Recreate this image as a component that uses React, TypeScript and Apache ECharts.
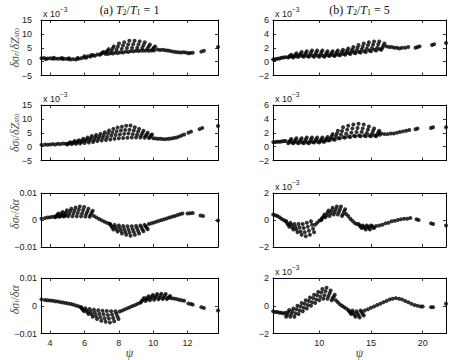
import React, { useEffect, useRef } from 'react';
import * as echarts from 'echarts';

// ---- data (y in units of 1e-3) ----
const srZstoA: number[][] = [
  [3.5,1.2],[3.65,1.3],[3.75,0.9],[3.85,1.1],[4.0,1.2],[4.15,1.0],[4.2,1.4],[4.3,1.1],[4.45,1.0],[4.6,1.1],[4.7,1.3],[4.75,0.9],[4.9,1.0],[5.05,0.9],[5.1,1.2],[5.2,0.8],[5.35,0.9],[5.5,0.8],[5.6,1.3],[5.65,1.0],[5.8,1.2],[5.95,1.5],[6.0,1.9],[6.1,1.4],[6.2,1.9],[6.35,1.8],[6.4,2.4],[6.5,2.3],[6.6,2.1],[6.75,2.6],
  [6.9,2.5],[6.97,2.8],[7.04,3.2],[7.11,3.5],
  [7.2,2.8],[7.27,3.4],[7.34,3.9],[7.41,4.5],
  [7.5,3.0],[7.57,3.8],[7.64,4.7],[7.71,5.5],
  [7.8,3.2],[7.87,4.3],[7.94,5.4],[8.01,6.5],
  [8.1,3.4],[8.17,4.6],[8.24,5.8],[8.31,7.0],
  [8.4,3.6],[8.47,4.9],[8.54,6.2],[8.61,7.5],
  [8.7,3.8],[8.77,5.0],[8.84,6.3],[8.91,7.5],
  [9.0,3.9],[9.07,5.0],[9.14,6.2],[9.21,7.3],
  [9.3,4.0],[9.37,5.0],[9.44,6.0],[9.51,7.0],
  [9.6,4.0],[9.67,4.7],[9.74,5.5],[9.81,6.2],
  [9.9,4.0],[9.97,4.5],[10.04,5.0],[10.11,5.5],
  [7.35,2.7],[7.65,2.9],[7.95,3.1],[8.25,3.3],[8.55,3.5],[8.85,3.7],[9.15,3.8],[9.45,3.9],[9.75,3.9],[10.05,4.0],
  [10.25,4.4],[10.4,4.2],[10.55,4.3],[10.7,4.1],[10.85,4.0],[11.0,3.8],[11.15,3.6],[11.3,3.5],[11.45,3.4],[11.6,3.3],[11.75,3.4],[11.9,3.3],[12.05,3.0],[12.15,3.1],[12.3,3.2],[12.8,3.6],[12.95,3.9],[13.77,5.3],
];

const siZstoA: number[][] = [
  [3.5,0.7],[3.7,0.8],[3.85,0.7],[4.0,0.8],[4.15,0.9],[4.3,0.8],[4.45,1.0],[4.6,0.9],[4.75,1.1],[4.9,1.0],
  [5.0,0.8],[5.06,1.1],[5.12,1.3],[5.18,1.6],
  [5.25,0.9],[5.31,1.3],[5.37,1.6],[5.43,2.0],
  [5.5,1.0],[5.56,1.4],[5.62,1.9],[5.68,2.3],
  [5.75,1.1],[5.81,1.7],[5.87,2.2],[5.93,2.8],
  [6.0,1.3],[6.06,2.0],[6.12,2.6],[6.18,3.3],
  [6.25,1.5],[6.31,2.3],[6.37,3.0],[6.43,3.8],
  [6.5,1.7],[6.56,2.5],[6.62,3.4],[6.68,4.2],
  [6.75,2.0],[6.81,2.9],[6.87,3.7],[6.93,4.6],
  [7.0,2.2],[7.06,3.2],[7.12,4.2],[7.18,5.2],
  [7.25,2.4],[7.31,3.5],[7.37,4.7],[7.43,5.8],
  [7.5,2.6],[7.56,3.9],[7.62,5.1],[7.68,6.4],
  [7.75,2.8],[7.81,4.2],[7.87,5.5],[7.93,6.9],
  [8.0,3.0],[8.06,4.4],[8.12,5.8],[8.18,7.2],
  [8.25,3.1],[8.31,4.6],[8.37,6.0],[8.43,7.5],
  [8.5,3.2],[8.56,4.7],[8.62,6.1],[8.68,7.6],
  [8.75,3.3],[8.81,4.5],[8.87,5.8],[8.93,7.0],
  [9.0,3.3],[9.06,4.3],[9.12,5.4],[9.18,6.4],
  [9.25,3.3],[9.31,4.1],[9.37,4.9],[9.43,5.7],
  [9.5,3.2],[9.56,3.8],[9.62,4.4],[9.68,5.0],
  [9.75,3.1],[9.81,3.5],[9.87,4.0],[9.93,4.4],
  [10.0,3.0],[10.15,2.9],[10.3,2.8],[10.45,2.8],[10.6,2.7],[10.75,2.7],[10.9,2.8],[11.05,2.9],[11.2,3.1],[11.35,3.3],[11.5,3.6],[11.65,4.0],[11.8,4.4],[12.05,5.0],[12.2,5.4],[12.7,6.3],[12.85,6.7],[13.77,7.4],
];

const srAlphaA: number[][] = [
  [3.5,0.5],[3.7,0.7],[3.85,0.9],[4.0,1.0],[4.15,1.2],[4.3,1.3],[4.45,1.4],[4.6,1.5],[4.75,1.6],[4.9,1.7],
  [4.3,1.0],[4.36,1.5],[4.42,1.9],[4.48,2.4],
  [4.55,1.2],[4.61,1.8],[4.67,2.4],[4.73,3.0],
  [4.8,1.3],[4.86,2.1],[4.92,2.8],[4.98,3.6],
  [5.05,1.4],[5.11,2.3],[5.17,3.3],[5.23,4.2],
  [5.3,1.4],[5.36,2.5],[5.42,3.5],[5.48,4.6],
  [5.55,1.4],[5.61,2.6],[5.67,3.8],[5.73,5.0],
  [5.8,1.4],[5.86,2.5],[5.92,3.7],[5.98,4.8],
  [6.05,1.3],[6.11,2.3],[6.17,3.2],[6.23,4.2],
  [6.3,1.2],[6.36,1.9],[6.42,2.7],[6.48,3.4],
  [6.55,1.5],[6.7,0.9],[6.85,0.4],[7.0,-0.1],[7.15,-0.6],[7.3,-1.0],[7.45,-1.4],
  [7.5,-1.5],[7.56,-2.2],[7.62,-2.8],[7.68,-3.5],
  [7.75,-1.8],[7.81,-2.6],[7.87,-3.5],[7.93,-4.3],
  [8.0,-2.0],[8.06,-3.0],[8.12,-4.0],[8.18,-5.0],
  [8.25,-2.2],[8.31,-3.3],[8.37,-4.4],[8.43,-5.5],
  [8.5,-2.3],[8.56,-3.5],[8.62,-4.6],[8.68,-5.8],
  [8.75,-2.3],[8.81,-3.4],[8.87,-4.4],[8.93,-5.5],
  [9.0,-2.2],[9.06,-3.1],[9.12,-4.1],[9.18,-5.0],
  [9.25,-2.0],[9.31,-2.7],[9.37,-3.5],[9.43,-4.2],
  [9.5,-1.8],[9.56,-2.3],[9.62,-2.9],[9.68,-3.4],
  [9.75,-1.5],[9.9,-1.2],[10.05,-0.9],[10.2,-0.6],[10.35,-0.3],[10.5,0.0],[10.65,0.3],[10.8,0.6],[10.95,0.9],[11.1,1.2],[11.25,1.5],[11.4,1.8],[11.55,2.1],[11.7,2.4],[12.0,2.4],[12.15,2.5],[12.3,2.6],[12.75,1.7],[12.9,1.5],[13.77,-0.2],
];

const siAlphaA: number[][] = [
  [3.5,2.3],[3.7,2.1],[3.85,2.0],[4.0,1.9],[4.15,1.8],[4.3,1.6],[4.45,1.5],[4.6,1.3],[4.75,1.2],[4.9,1.0],[5.05,0.8],[5.2,0.6],[5.35,0.4],[5.5,0.1],[5.65,-0.2],[5.8,-0.5],
  [5.8,-0.6],[5.86,-1.1],[5.92,-1.5],[5.98,-2.0],
  [6.05,-0.9],[6.11,-1.6],[6.17,-2.3],[6.23,-3.0],
  [6.3,-1.2],[6.36,-2.1],[6.42,-3.1],[6.48,-4.0],
  [6.55,-1.4],[6.61,-2.5],[6.67,-3.7],[6.73,-4.8],
  [6.8,-1.6],[6.86,-2.9],[6.92,-4.1],[6.98,-5.4],
  [7.05,-1.8],[7.11,-3.1],[7.17,-4.5],[7.23,-5.8],
  [7.3,-1.9],[7.36,-3.3],[7.42,-4.6],[7.48,-6.0],
  [7.55,-2.0],[7.61,-3.2],[7.67,-4.4],[7.73,-5.6],
  [7.8,-2.0],[7.86,-2.9],[7.92,-3.9],[7.98,-4.8],
  [8.05,-2.1],[8.2,-1.7],[8.35,-1.3],[8.5,-0.9],[8.65,-0.5],[8.8,-0.1],[8.95,0.3],[9.1,0.7],[9.25,1.1],
  [9.3,1.4],[9.36,1.9],[9.42,2.3],[9.48,2.8],
  [9.55,1.7],[9.61,2.3],[9.67,2.8],[9.73,3.4],
  [9.8,2.0],[9.86,2.6],[9.92,3.3],[9.98,3.9],
  [10.05,2.2],[10.11,2.9],[10.17,3.5],[10.23,4.2],
  [10.3,2.3],[10.36,2.9],[10.42,3.6],[10.48,4.3],
  [10.55,2.4],[10.61,3.0],[10.67,3.6],[10.73,4.2],
  [10.8,2.4],[10.86,2.8],[10.92,3.1],[10.98,3.5],
  [11.05,2.7],[11.2,2.6],[11.35,2.4],[11.5,2.2],[11.65,2.0],[11.8,1.8],[12.05,0.8],[12.2,0.6],[12.3,0.4],[12.8,-0.5],[12.95,-0.8],[13.77,-1.7],
];

const srZstoB: number[][] = [
  [5.55,0.3],[5.75,0.35],[5.95,0.4],[6.15,0.45],[6.35,0.55],[6.55,0.6],[6.75,0.65],
  [7.0,0.6],[7.1,0.75],[7.2,0.85],[7.3,1.0],
  [7.5,0.6],[7.6,0.8],[7.7,1.0],[7.8,1.2],
  [8.0,0.7],[8.1,0.95],[8.2,1.15],[8.3,1.4],
  [8.5,0.7],[8.6,0.95],[8.7,1.25],[8.8,1.5],
  [9.0,0.7],[9.1,1.0],[9.2,1.3],[9.3,1.6],
  [9.5,0.7],[9.6,1.0],[9.7,1.3],[9.8,1.6],
  [10.0,0.7],[10.1,1.0],[10.2,1.3],[10.3,1.6],
  [10.5,0.7],[10.6,0.95],[10.7,1.25],[10.8,1.5],
  [11.0,0.8],[11.1,1.05],[11.2,1.25],[11.3,1.5],
  [11.5,0.8],[11.6,1.05],[11.7,1.35],[11.8,1.6],
  [12.0,0.9],[12.1,1.15],[12.2,1.45],[12.3,1.7],
  [12.5,1.0],[12.6,1.3],[12.7,1.6],[12.8,1.9],
  [13.0,1.1],[13.1,1.45],[13.2,1.75],[13.3,2.1],
  [13.5,1.2],[13.6,1.6],[13.7,2.0],[13.8,2.4],
  [14.0,1.3],[14.1,1.75],[14.2,2.15],[14.3,2.6],
  [14.5,1.4],[14.6,1.85],[14.7,2.35],[14.8,2.8],
  [15.0,1.5],[15.1,1.95],[15.2,2.45],[15.3,2.9],
  [15.5,1.6],[15.6,2.0],[15.7,2.5],[15.8,2.9],
  [16.0,1.7],[16.1,2.0],[16.2,2.3],[16.3,2.6],
  [7.35,0.7],[7.85,0.75],[8.35,0.8],[8.85,0.8],[9.35,0.85],[9.85,0.85],[10.35,0.85],[10.85,0.9],[11.35,0.9],[11.85,1.0],[12.35,1.1],[12.85,1.2],[13.35,1.3],[13.85,1.4],[14.35,1.5],[14.85,1.6],[15.35,1.7],[15.85,1.8],
  [16.5,2.2],[16.75,2.1],[17.0,2.1],[17.25,2.0],[17.5,2.0],[17.75,1.9],[18.0,2.0],[18.3,2.0],[18.6,2.1],[19.3,2.0],[19.5,2.1],[19.7,2.2],[20.9,2.4],[21.1,2.5],[22.25,2.7],
];

const siZstoB: number[][] = [
  [5.55,0.65],[5.75,0.65],[5.95,0.7],[6.15,0.7],[6.35,0.75],[6.55,0.8],[6.75,0.8],
  [7.0,0.5],[7.1,0.7],[7.2,0.9],[7.3,1.1],
  [7.5,0.5],[7.6,0.75],[7.7,0.95],[7.8,1.2],
  [8.0,0.5],[8.1,0.75],[8.2,0.95],[8.3,1.2],
  [8.5,0.5],[8.6,0.75],[8.7,1.05],[8.8,1.3],
  [9.0,0.5],[9.1,0.75],[9.2,1.05],[9.3,1.3],
  [9.5,0.6],[9.6,0.85],[9.7,1.05],[9.8,1.3],
  [10.0,0.6],[10.1,0.85],[10.2,1.05],[10.3,1.3],
  [10.5,0.7],[10.6,0.95],[10.7,1.15],[10.8,1.4],
  [11.0,0.9],[11.1,1.2],[11.2,1.5],[11.3,1.8],
  [11.5,1.0],[11.6,1.45],[11.7,1.85],[11.8,2.3],
  [12.0,1.2],[12.1,1.75],[12.2,2.25],[12.3,2.8],
  [12.5,1.3],[12.6,1.85],[12.7,2.45],[12.8,3.0],
  [13.0,1.4],[13.1,2.0],[13.2,2.6],[13.3,3.2],
  [13.5,1.5],[13.6,2.1],[13.7,2.7],[13.8,3.3],
  [14.0,1.5],[14.1,2.1],[14.2,2.6],[14.3,3.2],
  [14.5,1.5],[14.6,1.95],[14.7,2.45],[14.8,2.9],
  [15.0,1.5],[15.1,1.85],[15.2,2.25],[15.3,2.6],
  [15.5,1.5],[15.6,1.75],[15.7,2.05],[15.8,2.3],
  [7.35,0.6],[7.85,0.6],[8.35,0.6],[8.85,0.6],[9.35,0.65],[9.85,0.7],[10.35,0.75],[10.85,0.9],[11.35,1.05],[11.85,1.2],[12.35,1.35],[12.85,1.45],[13.35,1.55],[13.85,1.6],[14.35,1.6],[14.85,1.6],[15.35,1.6],[15.85,1.7],
  [16.0,1.9],[16.3,1.8],[16.6,1.8],[16.9,1.9],[17.2,1.9],[17.5,2.0],[17.8,2.1],[18.1,2.2],[18.4,2.3],[18.7,2.4],[19.3,2.5],[19.5,2.6],[20.8,2.7],[21.0,2.8],[22.25,2.8],
];

const srAlphaB: number[][] = [
  [5.55,0.4],[5.75,0.35],[5.95,0.3],[6.15,0.2],[6.35,0.1],[6.55,0.0],[6.75,-0.1],
  [6.8,-0.1],[6.9,-0.25],[7.0,-0.35],[7.1,-0.5],
  [7.2,-0.2],[7.3,-0.35],[7.4,-0.55],[7.5,-0.7],
  [7.6,-0.3],[7.7,-0.5],[7.8,-0.7],[7.9,-0.9],
  [8.0,-0.3],[8.1,-0.55],[8.2,-0.85],[8.3,-1.1],
  [8.4,-0.3],[8.5,-0.6],[8.6,-0.9],[8.7,-1.2],
  [8.8,-0.2],[8.9,-0.5],[9.0,-0.8],[9.1,-1.1],
  [9.2,-0.1],[9.3,-0.35],[9.4,-0.65],[9.5,-0.9],
  [9.6,-0.35],[9.8,-0.2],[10.0,-0.05],[10.2,0.05],
  [10.2,0.0],[10.3,0.15],[10.4,0.25],[10.5,0.4],
  [10.6,0.2],[10.7,0.35],[10.8,0.55],[10.9,0.7],
  [11.0,0.3],[11.1,0.5],[11.2,0.7],[11.3,0.9],
  [11.4,0.4],[11.5,0.6],[11.6,0.8],[11.7,1.0],
  [11.8,0.4],[11.9,0.6],[12.0,0.8],[12.1,1.0],
  [12.2,0.3],[12.3,0.45],[12.4,0.65],[12.5,0.8],
  [12.6,0.45],[12.8,0.3],[13.0,0.1],[13.2,-0.05],[13.4,-0.2],[13.6,-0.3],
  [13.8,-0.3],[13.9,-0.4],[14.0,-0.5],[14.1,-0.6],
  [14.2,-0.4],[14.3,-0.5],[14.4,-0.6],[14.5,-0.7],
  [14.6,-0.4],[14.7,-0.5],[14.8,-0.6],[14.9,-0.7],
  [15.0,-0.4],[15.1,-0.45],[15.2,-0.55],[15.3,-0.6],
  [15.5,-0.45],[15.8,-0.4],[16.1,-0.35],[16.4,-0.25],[16.7,-0.2],[17.0,-0.1],[17.3,-0.05],[17.6,0.0],[17.9,0.05],[18.2,0.1],[18.5,0.1],[18.8,0.15],[19.4,0.05],[19.6,0.0],[20.8,-0.25],[21.0,-0.3],[22.25,-0.4],
];

const siAlphaB: number[][] = [
  [5.55,-0.4],[5.75,-0.45],[5.95,-0.45],[6.15,-0.5],[6.35,-0.5],[6.55,-0.55],[6.75,-0.5],
  [6.8,-0.8],[6.9,-0.65],[7.0,-0.45],[7.1,-0.3],
  [7.2,-0.8],[7.3,-0.6],[7.4,-0.4],[7.5,-0.2],
  [7.6,-0.8],[7.7,-0.55],[7.8,-0.25],[7.9,0.0],
  [8.0,-0.6],[8.1,-0.35],[8.2,-0.05],[8.3,0.2],
  [8.4,-0.4],[8.5,-0.15],[8.6,0.15],[8.7,0.4],
  [8.8,-0.2],[8.9,0.05],[9.0,0.35],[9.1,0.6],
  [9.2,0.0],[9.3,0.25],[9.4,0.55],[9.5,0.8],
  [9.6,0.2],[9.7,0.45],[9.8,0.75],[9.9,1.0],
  [10.0,0.4],[10.1,0.65],[10.2,0.95],[10.3,1.2],
  [10.4,0.5],[10.5,0.75],[10.6,1.05],[10.7,1.3],
  [10.8,0.5],[10.9,0.7],[11.0,0.9],[11.1,1.1],
  [11.2,0.4],[11.3,0.55],[11.4,0.65],[11.5,0.8],
  [11.6,0.4],[11.8,0.25],[12.0,0.1],[12.2,0.0],[12.4,-0.1],[12.6,-0.2],
  [12.8,-0.3],[12.9,-0.4],[13.0,-0.5],[13.1,-0.6],
  [13.2,-0.35],[13.3,-0.5],[13.4,-0.65],[13.5,-0.8],
  [13.6,-0.4],[13.7,-0.55],[13.8,-0.7],[13.9,-0.85],
  [14.0,-0.35],[14.1,-0.45],[14.2,-0.6],[14.3,-0.7],
  [14.4,-0.35],[14.7,-0.25],[15.0,-0.15],[15.3,-0.05],[15.6,0.05],[15.9,0.15],[16.2,0.25],[16.5,0.35],[16.8,0.45],[17.1,0.5],[17.4,0.55],[17.7,0.5],[18.0,0.45],[18.3,0.35],[18.6,0.25],[18.9,0.15],[19.2,0.05],[19.5,0.0],[19.8,-0.05],[20.0,-0.05],[20.8,-0.1],[21.0,-0.1],[22.25,0.15],
];

const titles = ['(a) ', '(b) '];
const ratios = ['1', '5'];
const yLabelTexts = [
  '{i|δσ}{s|r}{n|/}{i|δZ}{s|sto}',
  '{i|δσ}{s|i}{n|/}{i|δZ}{s|sto}',
  '{i|δσ}{s|r}{n|/}{i|δα}',
  '{i|δσ}{s|i}{n|/}{i|δα}',
];

const MINUS = '\u2212';
const fmt = (v: number) => (v < 0 ? MINUS + String(Math.abs(v)) : String(v));
const fmtAlpha = (v: number) => {
  const r = Math.round(v) / 1000;
  return r < 0 ? MINUS + String(Math.abs(r)) : String(r);
};

const ROW_TOP = [20, 105, 193, 278];
const ROW_H = [55.5, 55.5, 54, 55.5];
const COL_LEFT = [41, 273];
const COL_W = [177, 173];
const X_RANGE = [
  { min: 3.47, max: 13.77, split: 5 },
  { min: 5.53, max: 22.25, split: 3 },
];
const YLABEL_POS = [
  { x: 13.5, dy: 0 },
  { x: 13.5, dy: 0 },
  { x: 13.5, dy: -6 },
  { x: 13.5, dy: -6 },
];

interface Panel { data: number[][]; col: number; row: number; ymin: number; ymax: number; yint: number; yfmt: (v: number) => string; sci: boolean; }

const panels: Panel[] = [
  { data: srZstoA, col: 0, row: 0, ymin: -5, ymax: 15, yint: 5, yfmt: fmt, sci: true },
  { data: siZstoA, col: 0, row: 1, ymin: -5, ymax: 15, yint: 5, yfmt: fmt, sci: true },
  { data: srAlphaA, col: 0, row: 2, ymin: -10, ymax: 10, yint: 10, yfmt: fmtAlpha, sci: false },
  { data: siAlphaA, col: 0, row: 3, ymin: -10, ymax: 10, yint: 10, yfmt: fmtAlpha, sci: false },
  { data: srZstoB, col: 1, row: 0, ymin: -2, ymax: 6, yint: 2, yfmt: fmt, sci: true },
  { data: siZstoB, col: 1, row: 1, ymin: -2, ymax: 6, yint: 2, yfmt: fmt, sci: true },
  { data: srAlphaB, col: 1, row: 2, ymin: -2, ymax: 2, yint: 2, yfmt: fmt, sci: true },
  { data: siAlphaB, col: 1, row: 3, ymin: -2, ymax: 2, yint: 2, yfmt: fmt, sci: true },
];

const SANS = 'Liberation Sans, Arial, sans-serif';
const SERIF = 'Liberation Serif, DejaVu Serif, serif';

function buildOption() {
  const grid: any[] = [];
  const xAxis: any[] = [];
  const yAxis: any[] = [];
  const series: any[] = [];
  const graphic: any[] = [];
  const tickStyle = { show: true, inside: true, length: 3, lineStyle: { color: '#000', width: 0.8 } };
  const lineStyle = { show: true, onZero: false, lineStyle: { color: '#000', width: 1 } };
  panels.forEach((p, i) => {
    const left = COL_LEFT[p.col];
    const top = ROW_TOP[p.row];
    grid.push({ left, top, width: COL_W[p.col], height: ROW_H[p.row], containLabel: false });
    const xr = X_RANGE[p.col];
    const baseX = {
      type: 'value', gridIndex: i, min: xr.min, max: xr.max, splitNumber: xr.split,
      axisLine: lineStyle, axisTick: tickStyle, splitLine: { show: false },
    };
    xAxis.push({ ...baseX, position: 'bottom',
      axisLabel: { show: p.row === 3, margin: 5, fontSize: 9, color: '#222', fontFamily: SANS, showMinLabel: false, showMaxLabel: false } });
    xAxis.push({ ...baseX, position: 'top', axisLabel: { show: false } });
    const baseY = {
      type: 'value', gridIndex: i, min: p.ymin, max: p.ymax, interval: p.yint,
      axisLine: lineStyle, axisTick: tickStyle, splitLine: { show: false },
    };
    yAxis.push({ ...baseY, position: 'left',
      axisLabel: { show: true, margin: p.col === 0 && p.row < 2 ? 9 : 4, fontSize: 9, color: '#222', fontFamily: SANS, formatter: p.yfmt } });
    yAxis.push({ ...baseY, position: 'right', axisLabel: { show: false } });
    series.push({
      type: 'scatter', xAxisIndex: 2 * i, yAxisIndex: 2 * i, data: p.data,
      symbol: 'circle', symbolSize: 4, itemStyle: { color: '#000' }, silent: true,
    });
    if (p.sci) {
      graphic.push({
        type: 'text', x: left + 2, y: top - 2,
        style: {
          text: '{a|x 10}{b|' + MINUS + '3}', textAlign: 'left', textVerticalAlign: 'bottom', fill: '#222',
          rich: {
            a: { fontSize: 9, fontFamily: SANS, fill: '#222', lineHeight: 12, verticalAlign: 'bottom' },
            b: { fontSize: 6.5, fontFamily: SANS, fill: '#222', lineHeight: 6, verticalAlign: 'top' },
          },
        },
      });
    }
  });

  const richT = {
    n: { fontSize: 12, fontFamily: SERIF, fill: '#111', lineHeight: 14, verticalAlign: 'bottom' },
    i: { fontSize: 12, fontFamily: SERIF, fontStyle: 'italic', fill: '#111', lineHeight: 14, verticalAlign: 'bottom' },
    s: { fontSize: 8, fontFamily: SERIF, fill: '#111', lineHeight: 6, verticalAlign: 'bottom' },
  };
  [0, 1].forEach((c) => {
    graphic.push({
      type: 'text', x: COL_LEFT[c] + COL_W[c] / 2, y: 9,
      style: {
        text: '{n|' + titles[c] + '}{i|T}{s|2}{n|/}{i|T}{s|1}{n| = ' + ratios[c] + '}',
        textAlign: 'center', textVerticalAlign: 'middle', rich: richT,
      },
    });
    graphic.push({
      type: 'text', x: COL_LEFT[c] + COL_W[c] / 2, y: 353,
      style: { text: 'ψ', textAlign: 'center', textVerticalAlign: 'middle', font: 'italic 12px ' + SERIF, fill: '#444' },
    });
  });

  const richY = {
    i: { fontSize: 12, fontFamily: SERIF, fontStyle: 'italic', fill: '#555', lineHeight: 14, verticalAlign: 'bottom' },
    n: { fontSize: 12, fontFamily: SERIF, fill: '#555', lineHeight: 14, verticalAlign: 'bottom' },
    s: { fontSize: 8, fontFamily: SERIF, fontStyle: 'italic', fill: '#555', lineHeight: 5, verticalAlign: 'bottom' },
  };
  yLabelTexts.forEach((t, r) => {
    graphic.push({
      type: 'text', x: YLABEL_POS[r].x, y: ROW_TOP[r] + ROW_H[r] / 2 + YLABEL_POS[r].dy, rotation: Math.PI / 2,
      style: { text: t, textAlign: 'center', textVerticalAlign: 'middle', rich: richY },
    });
  });

  return { animation: false, backgroundColor: '#fff', grid, xAxis, yAxis, series, graphic };
}

export default function App() {
  const ref = useRef<HTMLDivElement>(null);
  useEffect(() => {
    if (!ref.current) return;
    const chart = echarts.init(ref.current, undefined, { renderer: 'svg' });
    chart.setOption(buildOption() as any);
    return () => chart.dispose();
  }, []);
  return <div ref={ref} style={{ position: 'fixed', left: 0, top: 0, width: 455, height: 360, background: '#fff' }} />;
}
